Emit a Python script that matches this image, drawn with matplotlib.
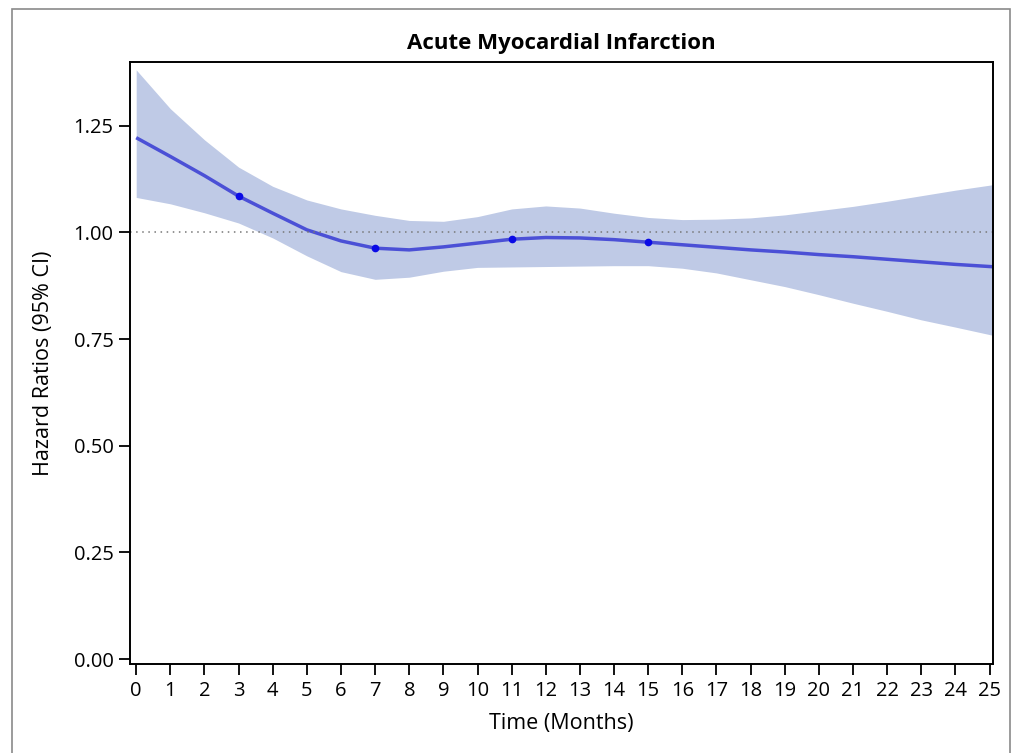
import numpy as np
import matplotlib
matplotlib.use("Agg")
import matplotlib.pyplot as plt
from matplotlib.patches import Rectangle

plt.rcParams['font.family'] = ['Open Sans', 'DejaVu Sans']

# hazard ratio curve with 95% CI band, by month
months = [0, 1, 2, 3, 4, 5, 6, 7, 8, 9, 10, 11, 12, 13, 14, 15, 16, 17, 18,
          19, 20, 21, 22, 23, 24, 25.2]
hr = [1.222, 1.178, 1.133, 1.085, 1.045, 1.006, 0.980, 0.963, 0.959, 0.966,
      0.975, 0.984, 0.988, 0.987, 0.983, 0.977, 0.971, 0.965, 0.959, 0.954,
      0.948, 0.943, 0.937, 0.931, 0.925, 0.919]
ci_upper = [1.381, 1.290, 1.217, 1.153, 1.108, 1.076, 1.055, 1.040, 1.028,
            1.026, 1.037, 1.055, 1.062, 1.057, 1.045, 1.035, 1.030, 1.031,
            1.034, 1.041, 1.051, 1.061, 1.073, 1.086, 1.099, 1.113]
ci_lower = [1.082, 1.067, 1.046, 1.022, 0.987, 0.945, 0.908, 0.890, 0.895,
            0.909, 0.918, 0.919, 0.920, 0.921, 0.922, 0.922, 0.916, 0.905,
            0.889, 0.873, 0.854, 0.834, 0.815, 0.795, 0.778, 0.757]
marker_months = [3, 7, 11, 15]

fig = plt.figure(figsize=(10.16, 7.53), dpi=100)
ax = fig.add_axes([0.128, 0.118, 0.849, 0.800])

ax.fill_between(months, ci_lower, ci_upper, color='#bfcae6', linewidth=0)
ax.plot(months, hr, color='#4b50d6', linewidth=2.5, solid_capstyle='butt')
mk = [hr[months.index(m)] for m in marker_months]
ax.plot(marker_months, mk, 'o', color='#0a0ae6', markersize=4.5, linestyle='none')
ax.axhline(1.0, color='#777777', linestyle=(0, (1, 3)), linewidth=1.1)

ax.set_xlim(-0.18, 25.09)
ax.set_ylim(-0.012, 1.40)
ax.set_xticks(range(0, 26))
ax.set_yticks([0, 0.25, 0.5, 0.75, 1.0, 1.25])
ax.set_yticklabels(['0.00', '0.25', '0.50', '0.75', '1.00', '1.25'])
ax.tick_params(direction='out', length=8, width=1.3, labelsize=14.5,
               colors='black', pad=4)
for s in ax.spines.values():
    s.set_linewidth(1.4)
    s.set_color('black')

ax.set_xlabel('Time (Months)', fontsize=15.5, labelpad=9)
ax.set_ylabel('Hazard Ratios (95% CI)', fontsize=15.5, labelpad=14)
ax.set_title('Acute Myocardial Infarction', fontsize=16, fontweight='bold', pad=9)

# thin grey frame round the figure
fig.patches.append(Rectangle((12 / 1016, -0.05), 998 / 1016, 1 - 9 / 753 + 0.05,
                             transform=fig.transFigure, fill=False,
                             edgecolor='#8a8a8a', linewidth=1.2))

fig.savefig('out.png', dpi=100)
